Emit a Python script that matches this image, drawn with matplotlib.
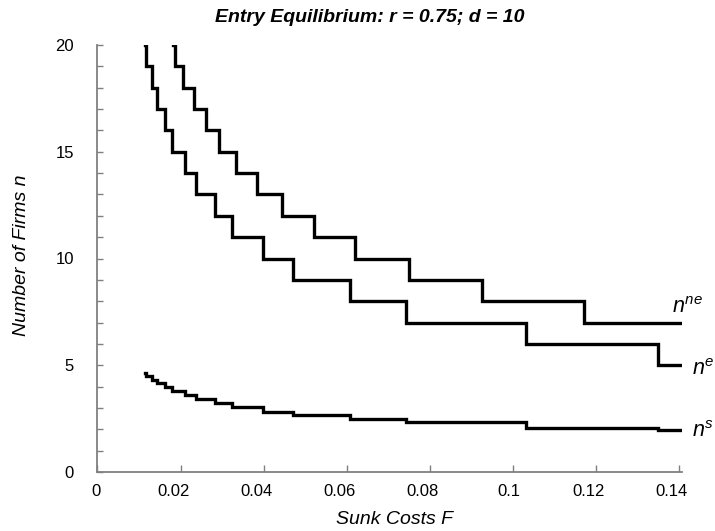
import matplotlib
matplotlib.use("Agg")
import matplotlib.pyplot as plt
import matplotlib.transforms as mtransforms
from matplotlib.ticker import FixedLocator, FixedFormatter, MultipleLocator

# ---- data ----
# breakpoints in sunk cost F (value holds from F[i] to F[i+1])
F_e = [0.0114, 0.0116, 0.01306, 0.01427, 0.01627, 0.01788, 0.02108, 0.02373,
       0.02831, 0.03234, 0.03995, 0.04703, 0.0607, 0.0743, 0.1032, 0.1351, 0.1402]
n_e = [20, 19, 18, 17, 16, 15, 14, 13, 12, 11, 10, 9, 8, 7, 6, 5, 5]
n_s = [4.63, 4.51, 4.32, 4.16, 3.96, 3.80, 3.60, 3.43, 3.22, 3.04, 2.83, 2.68,
       2.48, 2.36, 2.06, 1.98, 1.98]
F_ne = [0.0183, 0.01868, 0.02068, 0.02326, 0.02607, 0.02928, 0.0333, 0.03836,
        0.0444, 0.05217, 0.06206, 0.075, 0.0926, 0.1171, 0.1402]
n_ne = [20, 19, 18, 17, 16, 15, 14, 13, 12, 11, 10, 9, 8, 7, 7]

x_ticks = [0, 0.02, 0.04, 0.06, 0.08, 0.10, 0.12, 0.14]
x_tick_labels = ["0", "0.02", "0.04", "0.06", "0.08", "0.1", "0.12", "0.14"]
y_ticks = [0, 5, 10, 15, 20]
y_tick_labels = ["0", "5", "10", "15", "20"]

title = "Entry Equilibrium: r = 0.75; d = 10"
xlabel = "Sunk Costs F"
ylabel = "Number of Firms n"

# ---- styling ----
xtick_label_shift_px = [-1.5, -6.5, -7, -7, -7, -3.7, -6.7, -7]

plt.rcParams["font.family"] = ["Liberation Sans", "DejaVu Sans"]
plt.rcParams["mathtext.fontset"] = "custom"
plt.rcParams["mathtext.rm"] = "Liberation Sans"
plt.rcParams["mathtext.it"] = "Liberation Sans:italic"

W, H = 715, 531
fig = plt.figure(figsize=(W / 100, H / 100), dpi=100)
left, right, top, bottom = 97.5, 681.7, 45, 472
ax = fig.add_axes([left / W, (H - bottom) / H, (right - left) / W, (bottom - top) / H])

lw = 2.4
ax.step(F_ne, n_ne, where="post", color="black", lw=lw, solid_joinstyle="miter")
ax.step(F_e, n_e, where="post", color="black", lw=lw, solid_joinstyle="miter")
ax.step(F_e, n_s, where="post", color="black", lw=lw, solid_joinstyle="miter")

ax.set_xlim(0, 0.1407)
ax.set_ylim(0, 20)

spine_c = "#808080"
for s in ["top", "right"]:
    ax.spines[s].set_visible(False)
for s in ["left", "bottom"]:
    ax.spines[s].set_color(spine_c)
    ax.spines[s].set_linewidth(1.3)

ax.xaxis.set_major_locator(FixedLocator(x_ticks))
ax.xaxis.set_major_formatter(FixedFormatter(x_tick_labels))
ax.yaxis.set_major_locator(FixedLocator(y_ticks))
ax.yaxis.set_major_formatter(FixedFormatter(y_tick_labels))
ax.yaxis.set_minor_locator(MultipleLocator(1))

ax.tick_params(axis="both", which="both", direction="in", color=spine_c, width=1.0)
ax.tick_params(axis="x", which="major", length=5, pad=9, labelsize=12)
ax.tick_params(axis="y", which="major", length=4.5, pad=17, labelsize=12)
ax.tick_params(axis="y", which="minor", length=4.5)

for tick, dx in zip(ax.xaxis.get_major_ticks(), xtick_label_shift_px):
    tick.label1.set_transform(tick.label1.get_transform() +
                              mtransforms.ScaledTranslation(dx / 100, 0, fig.dpi_scale_trans))

fig.text(370 / W, 1 - 17.5 / H, title, ha="center", va="center",
         fontsize=14, fontweight="bold", fontstyle="italic")

ax.set_xlabel(xlabel, fontsize=14, fontstyle="italic")
ax.xaxis.set_label_coords((395 - left) / (right - left), -(511 - bottom) / (bottom - top))
ax.set_ylabel(ylabel, fontsize=14, fontstyle="italic")
ax.yaxis.set_label_coords(-(97.5 - 13) / (right - left), (bottom - 255) / (bottom - top))
ax.yaxis.label.set_va("top")

# series labels
ax.text(0.1384, 7.45, r"$n^{ne}$", fontsize=15.5, ha="left", va="baseline")
ax.text(0.1433, 4.54, r"$n^{e}$", fontsize=15.5, ha="left", va="baseline")
ax.text(0.1433, 1.65, r"$n^{s}$", fontsize=15.5, ha="left", va="baseline")

fig.savefig("out.png", dpi=100)
